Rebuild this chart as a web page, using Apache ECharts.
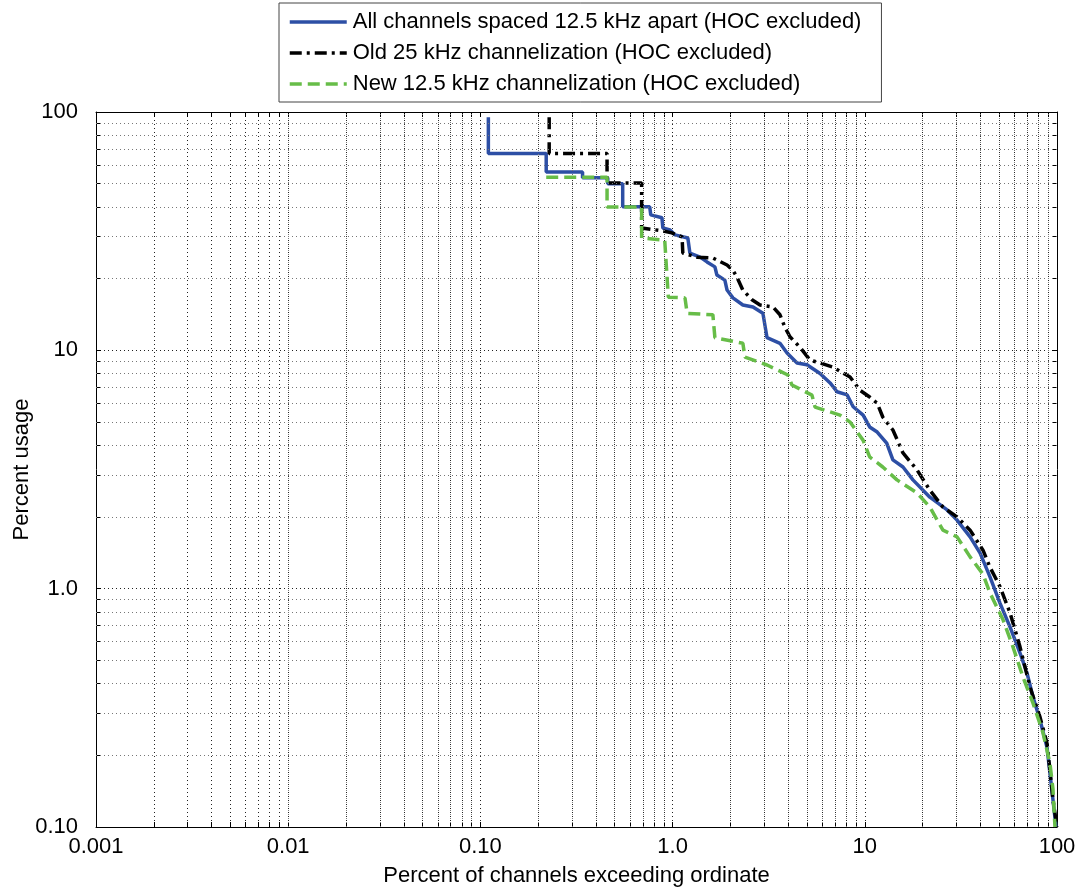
<!DOCTYPE html>
<html>
<head>
<meta charset="utf-8">
<script src="https://cdn.jsdelivr.net/npm/echarts@6/dist/echarts.min.js"></script>
<style>
  html, body { margin: 0; background: #fff; }
  #chart { width: 1083px; height: 890px; }
</style>
</head>
<body>
<div id="chart"></div>
<script>
// ticks and labels
const xTicks = [0.001, 0.01, 0.1, 1, 10, 100];
const xTickLabels = ['0.001', '0.01', '0.10', '1.0', '10', '100'];
const yTicks = [0.1, 1, 10, 100];
const yTickLabels = ['0.10', '1.0', '10', '100'];

// All channels spaced 12.5 kHz apart (HOC excluded)
const allX = [0.11, 0.11, 0.22, 0.22, 0.34, 0.34, 0.46, 0.46, 0.55, 0.55, 0.76, 0.77, 0.88, 0.89, 0.97, 1.03, 1.2, 1.23, 1.39, 1.51, 1.66, 1.70, 1.87, 1.92, 2.06, 2.32, 2.62, 2.95, 3.10, 3.62, 3.94, 4.44, 5.0, 5.85, 6.6, 7.17, 8.1, 8.7, 9.8, 10.6, 11.6, 13.0, 14.0, 15.8, 17.8, 21.8, 26.8, 30.2, 35.3, 39.8, 44.8, 50.5, 57, 64.2, 69.8, 75, 81.6, 88.7, 91.9, 95.3, 98.8];
const allY = [95, 67, 67, 56, 56, 53, 53, 50, 50, 40, 40, 37, 36, 32.6, 32, 30.5, 29.6, 25.6, 24.6, 23.5, 22.4, 20.7, 19.7, 17.9, 16.6, 15.5, 15.2, 14.3, 11.3, 10.7, 9.74, 8.85, 8.7, 8.0, 7.3, 6.7, 6.5, 5.8, 5.35, 4.77, 4.54, 4.08, 3.47, 3.24, 2.86, 2.42, 2.14, 1.94, 1.65, 1.41, 1.12, 0.87, 0.69, 0.537, 0.443, 0.351, 0.281, 0.216, 0.168, 0.13, 0.10];

// Old 25 kHz channelization (HOC excluded)
const oldX = [0.228, 0.228, 0.456, 0.456, 0.69, 0.69, 0.89, 0.99, 1.12, 1.13, 1.34, 1.62, 1.92, 2.06, 2.16, 2.32, 2.59, 2.85, 3.33, 3.62, 3.84, 4.08, 4.6, 5.19, 5.85, 6.83, 8.38, 9.44, 10.6, 11.6, 12.4, 14, 15.8, 18.7, 21.8, 25.5, 30.2, 35.3, 41.2, 44.8, 50.5, 57, 64.2, 72.4, 81.6, 88.7, 91.9, 95.3, 100];
const oldY = [95, 67, 67, 50.4, 50.4, 32.6, 31.7, 31.1, 29.9, 25.6, 24.6, 24.4, 22.8, 21.7, 20.3, 17.9, 16.3, 15.5, 15.2, 14.1, 12.5, 11.4, 10.3, 9.1, 8.85, 8.5, 7.73, 6.8, 6.37, 6.0, 5.25, 4.63, 3.71, 3.15, 2.59, 2.2, 2.0, 1.76, 1.45, 1.23, 1.02, 0.79, 0.57, 0.386, 0.289, 0.225, 0.173, 0.13, 0.10];

// New 12.5 kHz channelization (HOC excluded)
const newX = [0.22, 0.456, 0.456, 0.69, 0.69, 0.91, 0.95, 1.16, 1.19, 1.62, 1.66, 2.32, 2.38, 3.1, 3.98, 4.18, 5.31, 5.51, 7.43, 8.38, 9.79, 10.6, 12.4, 14.7, 18.7, 21.8, 25.5, 30.2, 35.3, 41.2, 44.8, 52.4, 59, 66.5, 75, 84.6, 91.9, 95.3, 97.6];
const newY = [53.2, 53.2, 39.9, 39.9, 29.6, 29, 16.7, 16.6, 14.3, 14.1, 11.3, 10.7, 9.37, 8.68, 7.88, 7.15, 6.49, 5.78, 5.35, 5.0, 4.2, 3.57, 3.24, 2.86, 2.52, 2.2, 1.76, 1.65, 1.36, 1.15, 0.96, 0.74, 0.57, 0.426, 0.331, 0.248, 0.185, 0.144, 0.10];

const FONT = 'Liberation Sans, Arial, sans-serif';
const FS = 22;

function pairs(xs, ys) { return xs.map((x, i) => [x, ys[i]]); }

function tickLabel(ticks, labels) {
    return function (v) {
        let i = ticks.findIndex(t => Math.abs(Math.log10(t) - Math.log10(v)) < 1e-6);
        return i < 0 ? '' : labels[i];
    };
}

// 2..9 inside every decade
function minors(ticks) {
    let out = [];
    for (let i = 0; i < ticks.length - 1; i++)
        for (let k = 2; k <= 9; k++) out.push(ticks[i] * k);
    return out;
}

const xMin = xTicks[0], xMax = xTicks[xTicks.length - 1];
const yMin = yTicks[0], yMax = yTicks[yTicks.length - 1];
const allXTicks = xTicks.concat(minors(xTicks));
const allYTicks = yTicks.concat(minors(yTicks));

const minorGrid = minors(xTicks).map(v => ({ xAxis: v }))
    .concat(minors(yTicks).map(v => ({ yAxis: v })));

function logAxis(min, max, tickValues) {
    return {
        type: 'log',
        logBase: 10,
        min: min,
        max: max,
        axisLine: { show: true, onZero: false, lineStyle: { color: '#000', width: 1 } },
        axisTick: { show: true, inside: true, length: 5, customValues: tickValues, lineStyle: { color: '#000' } },
        axisLabel: { show: false },
        splitLine: { show: false }
    };
}

let chart = echarts.init(document.getElementById('chart'));
chart.setOption({
    animation: false,
    backgroundColor: '#fff',
    textStyle: { fontFamily: FONT },
    grid: { left: 96, right: 26, top: 112, bottom: 63, containLabel: false, outerBoundsMode: 'none' },
    legend: {
        orient: 'vertical',
        left: 279,
        top: 3,
        padding: [8, 20, 7, 9],
        itemWidth: 57,
        itemHeight: 20,
        itemGap: 9,
        borderColor: '#444',
        borderWidth: 1,
        backgroundColor: '#fff',
        itemStyle: { opacity: 0 },
        lineStyle: { width: 3.5 },
        data: ['All channels spaced 12.5 kHz apart (HOC excluded)', 'Old 25 kHz channelization (HOC excluded)', 'New 12.5 kHz channelization (HOC excluded)'],
        textStyle: { fontFamily: FONT, fontSize: FS, color: '#000', padding: [0, 0, 0, 1] }
    },
    xAxis: [
        Object.assign(logAxis(xMin, xMax, allXTicks), {
            position: 'bottom',
            name: 'Percent of channels exceeding ordinate',
            nameLocation: 'middle',
            nameGap: 38,
            nameTextStyle: { fontFamily: FONT, fontSize: FS, color: '#000' },
            axisLabel: { show: true, margin: 9, fontFamily: FONT, fontSize: FS, color: '#000', formatter: tickLabel(xTicks, xTickLabels) },
            splitLine: { show: true, lineStyle: { type: [1, 3], color: '#222', width: 1 } }
        }),
        Object.assign(logAxis(xMin, xMax, allXTicks), { position: 'top' })
    ],
    yAxis: [
        Object.assign(logAxis(yMin, yMax, allYTicks), {
            position: 'left',
            name: 'Percent usage',
            nameLocation: 'middle',
            nameGap: 63,
            nameMoveOverlap: false,
            nameTextStyle: { fontFamily: FONT, fontSize: FS, color: '#000' },
            axisLabel: { show: true, margin: 18, fontFamily: FONT, fontSize: FS, color: '#000', formatter: tickLabel(yTicks, yTickLabels) },
            splitLine: { show: true, lineStyle: { type: [1, 3], color: '#222', width: 1 } }
        }),
        Object.assign(logAxis(yMin, yMax, allYTicks), { position: 'right' })
    ],
    series: [
        {
            name: 'minor grid',
            type: 'line',
            data: [],
            silent: true,
            z: 1,
            markLine: {
                silent: true,
                symbol: ['none', 'none'],
                label: { show: false },
                animation: false,
                lineStyle: { type: [1, 3], color: '#777', width: 1 },
                emphasis: { disabled: true },
                data: minorGrid
            }
        },
        {
            name: 'All channels spaced 12.5 kHz apart (HOC excluded)',
            type: 'line',
            data: pairs(allX, allY),
            showSymbol: false,
            symbol: 'none',
            z: 3,
            itemStyle: { color: '#2d4fa5' },
            lineStyle: { color: '#2d4fa5', width: 3.5 }
        },
        {
            name: 'Old 25 kHz channelization (HOC excluded)',
            type: 'line',
            data: pairs(oldX, oldY),
            showSymbol: false,
            symbol: 'none',
            z: 4,
            itemStyle: { color: '#000' },
            lineStyle: { color: '#000', width: 3.5, type: [12, 5, 3, 5] }
        },
        {
            name: 'New 12.5 kHz channelization (HOC excluded)',
            type: 'line',
            data: pairs(newX, newY),
            showSymbol: false,
            symbol: 'none',
            z: 5,
            itemStyle: { color: '#67bd48' },
            lineStyle: { color: '#67bd48', width: 3.5, type: [12, 6] }
        }
    ]
});
</script>
</body>
</html>
